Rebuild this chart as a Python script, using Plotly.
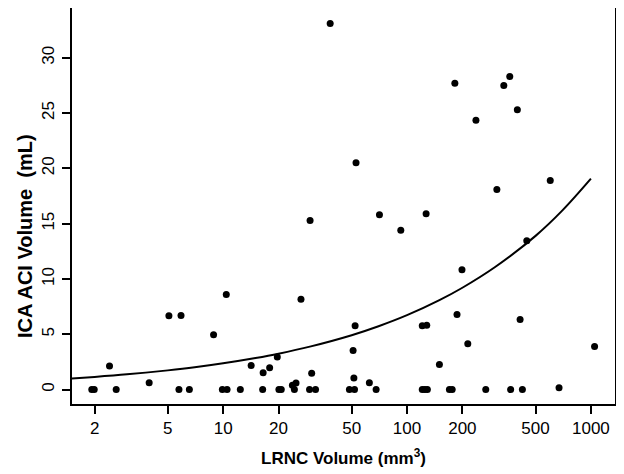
import plotly.graph_objects as go

# LRNC volume (mm^3) vs ICA ACI volume (mL)
lrnc_zero = [1.93, 1.99, 2.62, 5.75, 6.55, 9.9, 10.5, 12.4, 16.4, 20.1, 20.7,
             24.4, 29.5, 31.8, 48.6, 51.8, 67.9, 121, 125, 129, 170, 176,
             268, 366, 424]
lrnc_pos = [2.41, 3.96, 5.07, 5.9, 8.87, 10.4, 14.2, 16.5, 17.9, 19.7, 23.8,
            24.9, 26.5, 29.7, 30.3, 38.2, 50.9, 51.4, 52.2, 52.8, 62.4, 70.8,
            92.5, 121, 128, 127, 150, 182, 187, 199, 214, 237, 308, 336, 362,
            398, 412, 448, 601, 671, 1047]
aci_pos = [2.13, 0.63, 6.67, 6.7, 4.95, 8.6, 2.19, 1.53, 1.98, 2.94, 0.39,
           0.6, 8.16, 15.3, 1.47, 33.1, 3.54, 1.05, 5.77, 20.5, 0.63, 15.8,
           14.4, 5.77, 5.82, 15.9, 2.28, 27.7, 6.8, 10.84, 4.14, 24.35, 18.1,
           27.5, 28.3, 25.3, 6.33, 13.45, 18.9, 0.18, 3.9]

lrnc = lrnc_zero + lrnc_pos
aci = [0.0] * len(lrnc_zero) + aci_pos

# fitted curve
fit_x = [1.5, 2, 3, 5, 7, 10, 15, 20, 30, 50, 70, 100, 150, 200, 300, 500, 700, 1000]
fit_y = [1.01, 1.15, 1.38, 1.74, 2.02, 2.38, 2.86, 3.25, 3.91, 4.92, 5.73, 6.73,
         8.09, 9.21, 11.06, 13.9, 16.2, 19.07]

x_ticks = [2, 5, 10, 20, 50, 100, 200, 500, 1000]
y_ticks = [0, 5, 10, 15, 20, 25, 30]

font = "Liberation Sans, Arial, sans-serif"

fig = go.Figure()
fig.add_trace(go.Scatter(
    x=lrnc, y=aci, mode="markers",
    marker=dict(color="black", size=7),
    showlegend=False,
))
fig.add_trace(go.Scatter(
    x=fit_x, y=fit_y, mode="lines",
    line=dict(color="black", width=2, shape="spline"),
    showlegend=False,
))

axis_style = dict(
    showline=True, mirror=True, linecolor="black", linewidth=1.5,
    ticks="outside", ticklen=8, tickwidth=1.5, tickcolor="black",
    showgrid=False, zeroline=False, automargin=False,
    tickfont=dict(family=font, size=17, color="black"),
)

fig.update_xaxes(
    type="log", range=[0.178, 3.131],
    tickvals=x_ticks, ticktext=[str(v) for v in x_ticks],
    **axis_style,
)
fig.update_yaxes(
    range=[-1.3, 34.5],
    tickvals=y_ticks, ticktext=[str(v) for v in y_ticks],
    tickangle=-90, ticklabelstandoff=1,
    **axis_style,
)

fig.add_annotation(
    x=0.5, y=-0.1338, xref="paper", yref="paper",
    xanchor="center", yanchor="middle",
    text="<b>LRNC Volume (mm<sup>3</sup>)</b>", showarrow=False,
    font=dict(family=font, size=17, color="black"),
)
fig.add_annotation(
    x=-0.0866, y=0.424, xref="paper", yref="paper",
    xanchor="center", yanchor="middle",
    text="<b>ICA ACI Volume \u00a0(mL)</b>", showarrow=False, textangle=-90,
    font=dict(family=font, size=20, color="black"),
)

# page body has an 8px margin, so the figure is sized down to fit the window
fig.update_layout(
    width=616, height=466,
    margin=dict(l=64, r=9, t=0, b=70, autoexpand=False),
    plot_bgcolor="white", paper_bgcolor="white",
    font=dict(family=font, color="black"),
)

fig.write_html("out.html")
